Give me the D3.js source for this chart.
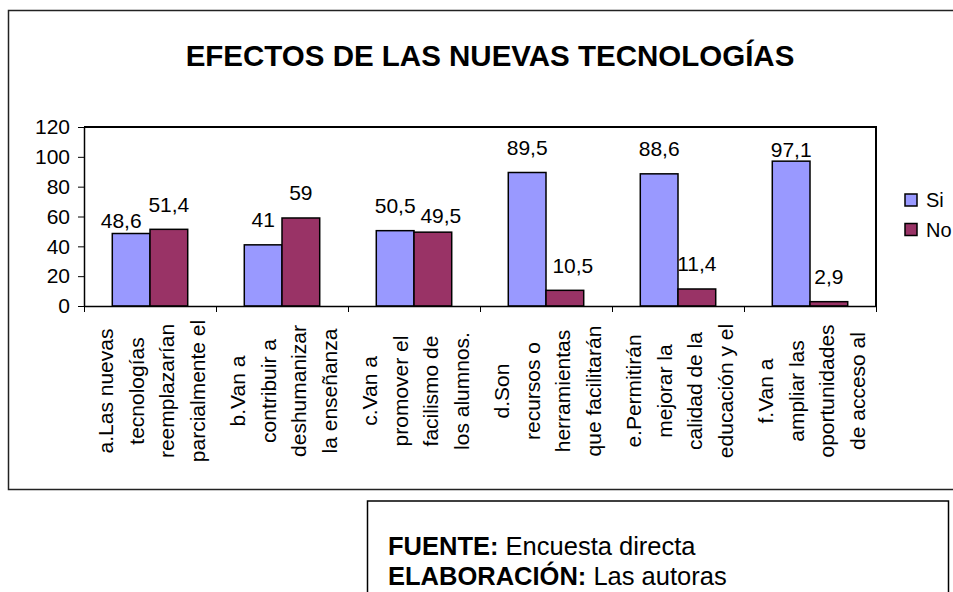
<!DOCTYPE html>
<html>
<head>
<meta charset="utf-8">
<script src="https://cdn.jsdelivr.net/npm/d3@7"></script>
<style>
	body { margin: 0; background: #fff; }
	svg { display: block; font-family: 'Liberation Sans', Arial, sans-serif; }
</style>
</head>
<body>
<svg width="953" height="592"></svg>
<script>
const svg = d3.select('svg')

const title = 'EFECTOS DE LAS NUEVAS TECNOLOGÍAS'
const series = ['Si', 'No']
const categoryLines = [
	['a.Las nuevas', 'tecnologías', 'reemplazarían', 'parcialmente el'],
	['b.Van a', 'contribuir a', 'deshumanizar', 'la enseñanza'],
	['c.Van a', 'promover el', 'facilismo de', 'los alumnos.'],
	['d.Son', 'recursos o', 'herramientas', 'que facilitarán'],
	['e.Permitirán', 'mejorar la', 'calidad de la', 'educación y el'],
	['f.Van a', 'ampliar las', 'oportunidades', 'de acceso al'],
]
const siValues = [48.6, 41, 50.5, 89.5, 88.6, 97.1]
const noValues = [51.4, 59, 49.5, 10.5, 11.4, 2.9]
const yTicks = [0, 20, 40, 60, 80, 100, 120]
const sourceLines = [
	['FUENTE:', ' Encuesta directa'],
	['ELABORACIÓN:', ' Las autoras'],
]

const colors = { Si: '#9999ff', No: '#993366' }

// excel moved a few data labels to dodge each other
const labelShift = { '0-Si': [-10, 12], '2-No': [8, 8], '3-No': [8, 0], '5-Si': [0, 13] }

const plot = { left: 84, right: 876, top: 127, bottom: 306 }

/*

FRAME + TITLE

*/
svg.append('rect')
	.attr('x', 8.5).attr('y', 10.5)
	.attr('width', 1000).attr('height', 479)
	.attr('fill', 'none')
	.attr('stroke', '#222')
	.attr('stroke-width', 1.5)

svg.append('text')
	.attr('x', 490).attr('y', 66)
	.attr('text-anchor', 'middle')
	.style('font-size', '29.5px')
	.style('font-weight', 'bold')
	.text(title)

/*

SCALES + AXES

*/
const x0 = d3.scaleBand()
	.domain(d3.range(categoryLines.length))
	.range([plot.left, plot.right])

const x1 = d3.scaleBand()
	.domain(series)
	.range([0, x0.bandwidth()])
	.paddingInner(0)
	.paddingOuter(0.75)

const xEdge = d3.scaleLinear()
	.domain([0, categoryLines.length])
	.range([plot.left, plot.right])

const y = d3.scaleLinear()
	.domain([0, 120])
	.range([plot.bottom, plot.top])

// plot area border (top + right)
svg.append('path')
	.attr('d', `M${plot.left},${plot.top}H${plot.right}V${plot.bottom}`)
	.attr('fill', 'none')
	.attr('stroke', '#000')
	.attr('stroke-width', 2)

const yAxis = svg.append('g')
	.attr('transform', `translate(${plot.left},0)`)
	.call(d3.axisLeft(y).tickValues(yTicks).tickSize(6).tickSizeOuter(0).tickPadding(8))
yAxis.select('.domain').attr('stroke-width', 1.5)
yAxis.selectAll('text').style('font-size', '21px').attr('fill', '#000').attr('font-family', null)

const series2 = d3.zip(siValues, noValues)

const groups = svg.selectAll('.group')
	.data(series2)
	.enter()
	.append('g')
	.attr('class', 'group')
	.attr('transform', (d, i) => `translate(${x0(i)},0)`)

const bars = groups.selectAll('.bar')
	.data((d, i) => series.map((s, j) => ({ cat: i, key: s, value: d[j] })))
	.enter()

bars.append('rect')
	.attr('x', d => x1(d.key))
	.attr('y', d => y(d.value))
	.attr('width', x1.bandwidth())
	.attr('height', d => y(0) - y(d.value))
	.attr('fill', d => colors[d.key])
	.attr('stroke', '#000')
	.attr('stroke-width', 1.5)

bars.append('text')
	.attr('x', d => x1(d.key) + x1.bandwidth() / 2 + (labelShift[`${d.cat}-${d.key}`] || [0, 0])[0])
	.attr('y', d => y(d.value) - 17.5 + (labelShift[`${d.cat}-${d.key}`] || [0, 0])[1])
	.attr('text-anchor', 'middle')
	.style('font-size', '21px')
	.text(d => String(d.value).replace('.', ','))

const xAxis = svg.append('g')
	.attr('transform', `translate(0,${plot.bottom})`)
	.call(d3.axisBottom(xEdge).tickValues(d3.range(categoryLines.length + 1)).tickFormat('').tickSize(6).tickSizeOuter(0))
xAxis.select('.domain').attr('stroke-width', 1.5)

// category labels, rotated, lines stacked left to right
const catLabel = svg.selectAll('.cat')
	.data(categoryLines)
	.enter()
	.append('text')
	.attr('class', 'cat')
	.attr('transform', (d, i) => `translate(${x0(i) + x0.bandwidth() / 2},391) rotate(-90)`)
	.attr('text-anchor', 'middle')
	.style('font-size', '21px')

catLabel.selectAll('tspan')
	.data(d => d)
	.enter()
	.append('tspan')
	.attr('x', 0)
	.attr('y', (d, i) => -37 + i * 30.5)
	.text(d => d)

/*

LEGEND

*/
const legend = svg.selectAll('.legend')
	.data(series)
	.enter()
	.append('g')
	.attr('class', 'legend')
	.attr('transform', (d, i) => `translate(905,${194 + i * 29.5})`)

legend.append('rect')
	.attr('width', 12).attr('height', 12)
	.attr('fill', d => colors[d])
	.attr('stroke', '#000')
	.attr('stroke-width', 1.5)

legend.append('text')
	.attr('x', 21).attr('y', 13)
	.style('font-size', '20px')
	.text(d => d)

/*

SOURCE BOX

*/
svg.append('rect')
	.attr('x', 367.5).attr('y', 501)
	.attr('width', 581).attr('height', 200)
	.attr('fill', 'none')
	.attr('stroke', '#000')
	.attr('stroke-width', 1.5)

const src = svg.selectAll('.src')
	.data(sourceLines)
	.enter()
	.append('text')
	.attr('class', 'src')
	.attr('x', 388)
	.attr('y', (d, i) => 555 + i * 30)
	.style('font-size', '25.5px')

src.append('tspan').style('font-weight', 'bold').text(d => d[0])
src.append('tspan').text(d => d[1])
</script>
</body>
</html>
